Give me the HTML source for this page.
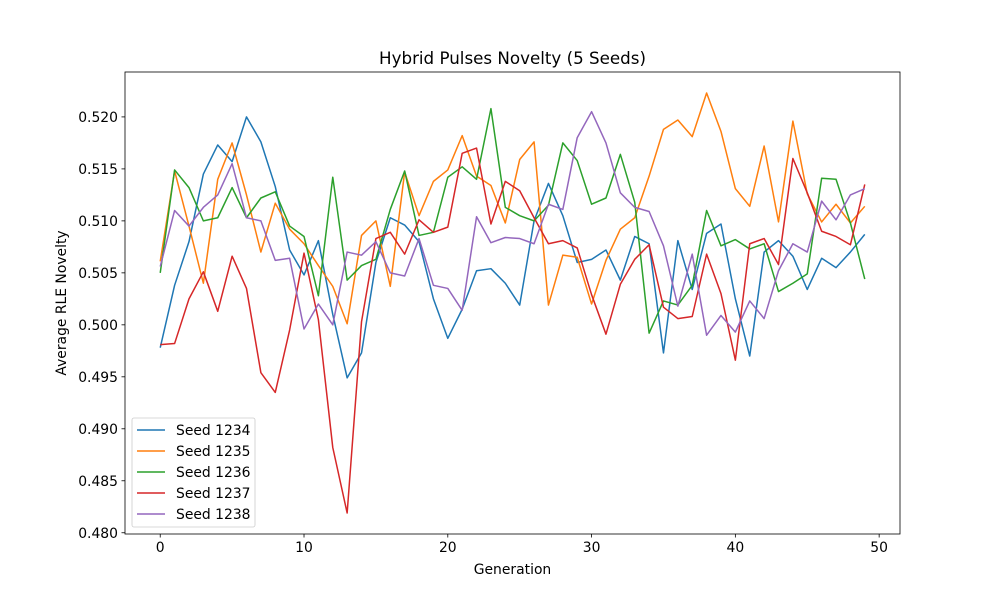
<!DOCTYPE html>
<html><head><meta charset="utf-8"><style>
body{margin:0;background:#fff;font-family:"DejaVu Sans","Liberation Sans",sans-serif}
svg text{font-family:"DejaVu Sans","Liberation Sans",sans-serif;fill:#000}
</style></head><body>
<svg id="chart" width="1000" height="600" xmlns="http://www.w3.org/2000/svg">
<rect width="1000" height="600" fill="#fff"/>
<text x="512.5" y="64" font-size="16.7" text-anchor="middle">Hybrid Pulses Novelty (5 Seeds)</text>
<g id="grid"></g><g id="lines"></g>
<rect x="125" y="72" width="775" height="462" fill="none" stroke="#000" stroke-width="0.8"/>
<g id="xticks"></g><g id="yticks"></g>
<text x="512.5" y="574" font-size="13.9" text-anchor="middle">Generation</text>
<text transform="translate(66,303) rotate(-90)" font-size="13.9" text-anchor="middle">Average RLE Novelty</text>
<g id="legend"></g>
</svg>
<script>
const seedNames=["Seed 1234","Seed 1235","Seed 1236","Seed 1237","Seed 1238"];
const colors=["#1f77b4","#ff7f0e","#2ca02c","#d62728","#9467bd"];
const xTicks=[0,10,20,30,40,50];
const yTicks=[0.480,0.485,0.490,0.495,0.500,0.505,0.510,0.515,0.520];
const s1234=[0.4978,0.5038,0.5080,0.5145,0.5173,0.5157,0.5200,0.5176,0.5133,0.5072,0.5048,0.5081,0.5010,0.4949,0.4973,0.5060,0.5103,0.5096,0.5080,0.5025,0.4987,0.5015,0.5052,0.5054,0.5040,0.5019,0.5100,0.5136,0.5105,0.5060,0.5063,0.5072,0.5043,0.5085,0.5078,0.4973,0.5081,0.5034,0.5088,0.5097,0.5025,0.4970,0.5070,0.5081,0.5066,0.5034,0.5064,0.5055,0.5070,0.5087];
const s1235=[0.5061,0.5148,0.5095,0.5040,0.5140,0.5175,0.5125,0.5070,0.5117,0.5092,0.5078,0.5057,0.5037,0.5001,0.5086,0.5100,0.5037,0.5147,0.5105,0.5138,0.5149,0.5182,0.5143,0.5134,0.5098,0.5159,0.5176,0.5019,0.5067,0.5065,0.5020,0.5062,0.5092,0.5103,0.5143,0.5188,0.5197,0.5181,0.5223,0.5186,0.5131,0.5114,0.5172,0.5099,0.5196,0.5126,0.5099,0.5116,0.5098,0.5114];
const s1236=[0.5050,0.5149,0.5132,0.5100,0.5103,0.5132,0.5103,0.5122,0.5128,0.5095,0.5085,0.5028,0.5142,0.5043,0.5057,0.5063,0.5111,0.5148,0.5086,0.5089,0.5142,0.5152,0.5140,0.5208,0.5113,0.5105,0.5100,0.5115,0.5175,0.5158,0.5116,0.5122,0.5164,0.5118,0.4992,0.5023,0.5019,0.5038,0.5110,0.5076,0.5082,0.5073,0.5078,0.5032,0.5040,0.5049,0.5141,0.5140,0.5098,0.5044];
const s1237=[0.4981,0.4982,0.5025,0.5051,0.5013,0.5066,0.5035,0.4954,0.4935,0.4995,0.5069,0.5005,0.4882,0.4819,0.5003,0.5083,0.5089,0.5068,0.5101,0.5089,0.5094,0.5165,0.5170,0.5097,0.5138,0.5129,0.5103,0.5078,0.5081,0.5074,0.5029,0.4991,0.5039,0.5063,0.5077,0.5017,0.5006,0.5008,0.5068,0.5030,0.4966,0.5078,0.5083,0.5058,0.5160,0.5127,0.5090,0.5085,0.5077,0.5135];
const s1238=[0.5056,0.5110,0.5095,0.5113,0.5125,0.5155,0.5103,0.5100,0.5062,0.5064,0.4996,0.5020,0.5000,0.5070,0.5067,0.5080,0.5050,0.5047,0.5083,0.5038,0.5035,0.5014,0.5104,0.5079,0.5084,0.5083,0.5078,0.5116,0.5111,0.5180,0.5205,0.5175,0.5127,0.5113,0.5109,0.5076,0.5018,0.5068,0.4990,0.5009,0.4993,0.5023,0.5006,0.5052,0.5078,0.5070,0.5119,0.5101,0.5125,0.5131];
const series=[s1234,s1235,s1236,s1237,s1238];
const NS="http://www.w3.org/2000/svg";
const L=125,R=900,T=72,B=534;
let all=[].concat(...series);let mn=Math.min(...all),mx=Math.max(...all),pad=(mx-mn)*0.05;
const y0=mn-pad,y1=mx+pad;
const n=s1234.length-1;const x0=-n*0.05,x1=n*1.05;
const xs=v=>L+(v-x0)/(x1-x0)*(R-L);
const ys=v=>B-(v-y0)/(y1-y0)*(B-T);
function mk(t,a,p){const e=document.createElementNS(NS,t);for(const k in a)e.setAttribute(k,a[k]);p.appendChild(e);return e;}
const xt=document.getElementById('xticks'),yt=document.getElementById('yticks');
xTicks.forEach(v=>{const x=xs(v);
const l=mk('line',{x1:x,x2:x,y1:B,y2:B+3.5,stroke:'#000','stroke-width':0.8},xt);


const t=mk('text',{x:x,y:B+18,'font-size':13.9,'text-anchor':'middle'},xt);t.textContent=v;

});
yTicks.forEach(v=>{const y=ys(v);
const l=mk('line',{x1:L-3.5,x2:L,y1:y,y2:y,stroke:'#000','stroke-width':0.8},yt);


const t=mk('text',{x:L-7,y:y+5,'font-size':13.9,'text-anchor':'end'},yt);t.textContent=v.toFixed(3);

});
const lg=document.getElementById('lines');
series.forEach((s,i)=>{const p=mk('polyline',{points:s.map((v,j)=>xs(j)+','+ys(v)).join(' '),fill:'none',stroke:colors[i],'stroke-width':1.5,'stroke-linejoin':'round'},lg);

});
const leg=document.getElementById('legend');
const box=mk('rect',{x:132,y:418,width:123,height:109,rx:2,fill:'#fff','fill-opacity':0.8,stroke:'#ccc','stroke-width':0.8},leg);


seedNames.forEach((nm,i)=>{const y=430+i*21;
const g=mk('g',{},leg);


mk('line',{x1:137,x2:165,y1:y,y2:y,stroke:colors[i],'stroke-width':1.5},g);
const t=mk('text',{x:176,y:y+5,'font-size':13.9},g);t.textContent=nm;});
</script>
</body></html>
